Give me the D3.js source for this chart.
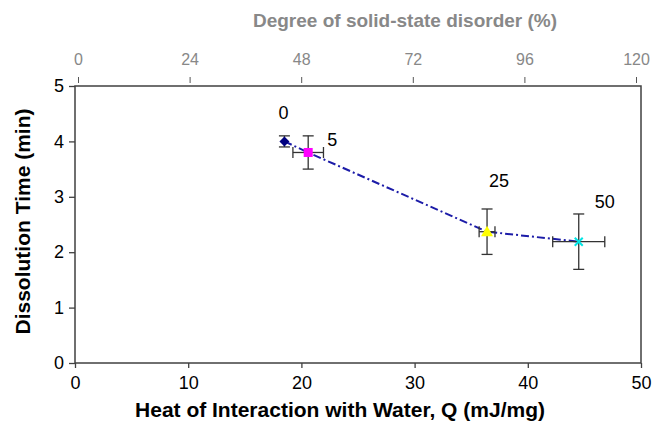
<!DOCTYPE html>
<html><head><meta charset="utf-8">
<script src="https://cdn.jsdelivr.net/npm/d3@7"></script>
<style>body{margin:0;background:#fff}svg{display:block}text{font-family:"Liberation Sans",Arial,sans-serif}</style>
</head><body><svg id="c" width="653" height="427"></svg>
<script>
const labels = ["0", "5", "25", "50"];
const heatQ = [18.5, 20.6, 36.4, 44.5];
const heatErr = [0, 1.35, 0.7, 2.3];
const dissTime = [4.0, 3.8, 2.37, 2.19];
const timeErr = [0.1, 0.3, 0.41, 0.5];
const markerShapes = ["diamond", "square", "triangle", "cross"];
const markerColors = ["#000080", "#ff00ff", "#ffff00", "#00e5e5"];
const xTicks = [0, 10, 20, 30, 40, 50];
const yTicks = [0, 1, 2, 3, 4, 5];
const topTicks = [0, 24, 48, 72, 96, 120];

const svg = d3.select("#c");
const L = 75, R = 641, T = 86, B = 363;
const x = d3.scaleLinear().domain([0, 50]).range([L, R]);
const y = d3.scaleLinear().domain([0, 5]).range([B, T]);
const xt = d3.scaleLinear().domain([0, 120]).range([78, 636]);

// frame
svg.append("rect").attr("x", L).attr("y", T).attr("width", R - L).attr("height", B - T)
  .attr("fill", "none").attr("stroke", "#404040").attr("stroke-width", 1.5);

// bottom axis
const gx = svg.append("g").attr("transform", `translate(0,${B})`)
  .call(d3.axisBottom(x).tickValues(xTicks).tickSize(5).tickPadding(8).tickFormat(d3.format("d")));
gx.select(".domain").remove();
gx.selectAll("line").attr("stroke", "#404040").attr("stroke-width", 1.3);
gx.selectAll("text").attr("font-size", 18).attr("fill", "#000");

// left axis
const gy = svg.append("g").attr("transform", `translate(${L},0)`)
  .call(d3.axisLeft(y).tickValues(yTicks).tickSize(6).tickPadding(5).tickFormat(d3.format("d")));
gy.select(".domain").remove();
gy.selectAll("line").attr("stroke", "#404040").attr("stroke-width", 1.3);
gy.selectAll("text").attr("font-size", 18).attr("fill", "#000");

// top axis (gray)
const gt = svg.append("g").attr("transform", `translate(0,${T - 3})`)
  .call(d3.axisTop(xt).tickValues(topTicks).tickSize(6).tickPadding(12).tickFormat(d3.format("d")));
gt.select(".domain").remove();
gt.selectAll("line").attr("stroke", "#555").attr("stroke-width", 1);
gt.selectAll("text").attr("font-size", 16).attr("fill", "#888");

// titles
svg.append("text").attr("x", 340).attr("y", 417).attr("text-anchor", "middle")
  .attr("font-size", 21).attr("font-weight", "bold").attr("fill", "#000")
  .text("Heat of Interaction with Water, Q (mJ/mg)");
svg.append("text").attr("x", 405).attr("y", 27).attr("text-anchor", "middle")
  .attr("font-size", 19).attr("font-weight", "bold").attr("fill", "#888")
  .text("Degree of solid-state disorder (%)");
svg.append("text").attr("transform", `translate(30,${(T + B) / 2 - 3}) rotate(-90)`)
  .attr("text-anchor", "middle").attr("font-size", 21).attr("font-weight", "bold").attr("fill", "#000")
  .text("Dissolution Time (min)");

const data = labels.map((l, i) => ({ l, q: heatQ[i], qe: heatErr[i], t: dissTime[i], te: timeErr[i], s: markerShapes[i], c: markerColors[i] }));

// line
svg.append("path").datum(data)
  .attr("d", d3.line().x(d => x(d.q)).y(d => y(d.t)))
  .attr("fill", "none").attr("stroke", "#1c1ca8").attr("stroke-width", 2)
  .attr("stroke-dasharray", "8,3,2,3");

// error bars
const eb = svg.append("g").attr("stroke", "#333").attr("stroke-width", 1.3);
data.forEach(d => {
  const cx = x(d.q), cy = y(d.t), cap = 5.5;
  if (d.te > 0) {
    eb.append("line").attr("x1", cx).attr("x2", cx).attr("y1", y(d.t + d.te)).attr("y2", y(d.t - d.te));
    eb.append("line").attr("x1", cx - cap).attr("x2", cx + cap).attr("y1", y(d.t + d.te)).attr("y2", y(d.t + d.te));
    eb.append("line").attr("x1", cx - cap).attr("x2", cx + cap).attr("y1", y(d.t - d.te)).attr("y2", y(d.t - d.te));
  }
  if (d.qe > 0) {
    eb.append("line").attr("x1", x(d.q - d.qe)).attr("x2", x(d.q + d.qe)).attr("y1", cy).attr("y2", cy);
    eb.append("line").attr("x1", x(d.q - d.qe)).attr("x2", x(d.q - d.qe)).attr("y1", cy - cap).attr("y2", cy + cap);
    eb.append("line").attr("x1", x(d.q + d.qe)).attr("x2", x(d.q + d.qe)).attr("y1", cy - cap).attr("y2", cy + cap);
  }
});

// markers
data.forEach(d => {
  const cx = x(d.q), cy = y(d.t);
  const g = svg.append("g").attr("transform", `translate(${cx},${cy})`);
  if (d.s === "diamond") g.append("path").attr("d", "M0,-5L5,0L0,5L-5,0Z").attr("fill", d.c);
  if (d.s === "square") g.append("rect").attr("x", -4.5).attr("y", -4.5).attr("width", 9).attr("height", 9).attr("fill", d.c);
  if (d.s === "triangle") g.append("path").attr("d", "M0,-6L6,4.5L-6,4.5Z").attr("fill", d.c);
  if (d.s === "cross") g.append("path").attr("d", "M-4,-4L4,4M-4,4L4,-4").attr("stroke", d.c).attr("stroke-width", 2);
});

// point labels
const labelOffsets = [[-1, -22], [24, -6], [12, -45], [26, -34]];
data.forEach((d, i) => {
  svg.append("text").attr("x", x(d.q) + labelOffsets[i][0]).attr("y", y(d.t) + labelOffsets[i][1])
    .attr("text-anchor", "middle").attr("font-size", 18).attr("fill", "#000").text(d.l);
});
</script></body></html>
